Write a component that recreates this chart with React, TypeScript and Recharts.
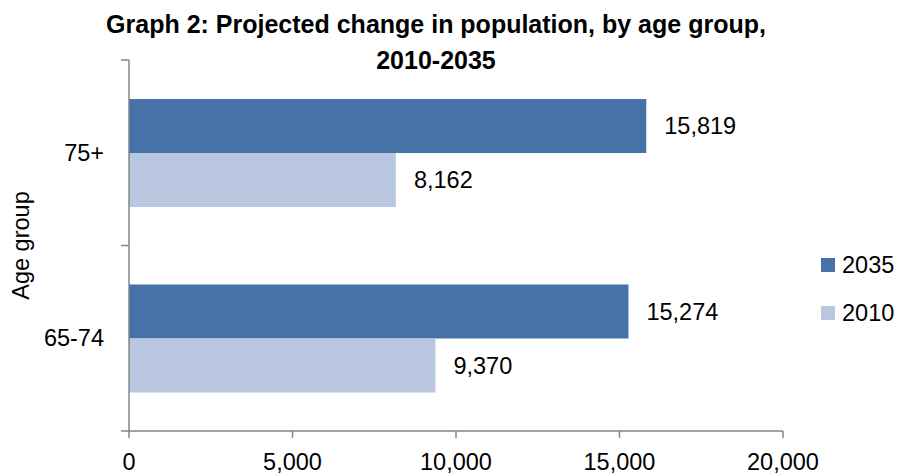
import React from "react";
import {
  BarChart,
  Bar,
  XAxis,
  YAxis,
  Legend,
  LabelList,
} from "recharts";

const ageGroups = ["75+", "65-74"];
const pop2035 = [15819, 15274];
const pop2010 = [8162, 9370];
const xTicks = [0, 5000, 10000, 15000, 20000];
const seriesOrder = ["2035", "2010"];

const data = ageGroups.map((group, i) => ({
  group,
  y2035: pop2035[i],
  y2010: pop2010[i],
}));

const FONT = "'Liberation Sans', Arial, sans-serif";
const FS = 23.5;
const W = 897;
const H = 475;
const TOP = 60;
const BOTTOM = 44;
const AXIS_W = 129;
const AXIS_COLOR = "#868686";
const band = (H - TOP - BOTTOM) / ageGroups.length;

const fmt = (v: number) => Number(v).toLocaleString("en-US");

function CategoryTick(props: any) {
  const { y, payload, index } = props;
  return (
    <g>
      <line
        x1={AXIS_W - 8}
        x2={AXIS_W}
        y1={y - band / 2}
        y2={y - band / 2}
        stroke={AXIS_COLOR}
        strokeWidth={1.5}
      />
      {index === ageGroups.length - 1 && (
        <line
          x1={AXIS_W - 8}
          x2={AXIS_W}
          y1={y + band / 2}
          y2={y + band / 2}
          stroke={AXIS_COLOR}
          strokeWidth={1.5}
        />
      )}
      <text
        x={AXIS_W - 25}
        y={y}
        textAnchor="end"
        dominantBaseline="central"
        fontSize={FS}
        fontFamily={FONT}
        fill="#000"
      >
        {payload.value}
      </text>
    </g>
  );
}

function AgeLabel(props: any) {
  const { viewBox } = props;
  const cx = 21;
  const cy = viewBox.y + viewBox.height / 2;
  return (
    <text
      x={cx}
      y={cy}
      transform={`rotate(-90 ${cx} ${cy})`}
      textAnchor="middle"
      dominantBaseline="central"
      fontSize={FS}
      fontFamily={FONT}
      fill="#000"
    >
      Age group
    </text>
  );
}

function LegendBox(props: any) {
  const { payload } = props;
  return (
    <div style={{ fontFamily: FONT, fontSize: FS }}>
      {(payload || []).map((entry: any) => (
        <div
          key={entry.value}
          style={{ display: "flex", alignItems: "center", height: 48 }}
        >
          <span
            style={{
              display: "inline-block",
              width: 14,
              height: 14,
              background: entry.color,
              marginRight: 7,
            }}
          />
          <span>{entry.value}</span>
        </div>
      ))}
    </div>
  );
}

export default function App() {
  return (
    <div
      style={{
        position: "absolute",
        left: 0,
        top: 0,
        width: W,
        height: H,
        background: "#fff",
      }}
    >
      <div
        style={{
          position: "absolute",
          left: 0,
          top: 6,
          width: 872,
          textAlign: "center",
          fontFamily: FONT,
          fontWeight: "bold",
          fontSize: 25,
          lineHeight: "36px",
          color: "#000",
          zIndex: 1,
        }}
      >
        Graph 2: Projected change in population, by age group,
        <br />
        2010-2035
      </div>
      <BarChart
        width={W}
        height={H}
        data={data}
        layout="vertical"
        margin={{ top: TOP, right: 34, bottom: 0, left: 0 }}
        barCategoryGap="21%"
        barGap={0}
      >
        <XAxis
          type="number"
          domain={[0, 20000]}
          ticks={xTicks}
          tickFormatter={fmt}
          height={BOTTOM}
          tickSize={7}
          tickMargin={15}
          axisLine={{ stroke: AXIS_COLOR, strokeWidth: 1.5 }}
          tickLine={{ stroke: AXIS_COLOR, strokeWidth: 1.5 }}
          tick={{ fontSize: FS, fill: "#000", fontFamily: FONT }}
        />
        <YAxis
          type="category"
          dataKey="group"
          width={AXIS_W}
          axisLine={{ stroke: AXIS_COLOR, strokeWidth: 1.5 }}
          tickLine={false}
          tick={<CategoryTick />}
          label={<AgeLabel />}
        />
        <Legend
          layout="vertical"
          align="right"
          verticalAlign="top"
          content={<LegendBox />}
          itemSorter={(item: any) => seriesOrder.indexOf(String(item.value))}
          wrapperStyle={{ left: 821, top: 241, width: 80 }}
        />
        <Bar
          dataKey="y2035"
          name="2035"
          fill="#4572A7"
          isAnimationActive={false}
        >
          <LabelList
            dataKey="y2035"
            position="right"
            offset={18}
            formatter={fmt}
            style={{ fontSize: FS, fill: "#000", fontFamily: FONT }}
          />
        </Bar>
        <Bar
          dataKey="y2010"
          name="2010"
          fill="#B9C7E0"
          isAnimationActive={false}
        >
          <LabelList
            dataKey="y2010"
            position="right"
            offset={18}
            formatter={fmt}
            style={{ fontSize: FS, fill: "#000", fontFamily: FONT }}
          />
        </Bar>
      </BarChart>
    </div>
  );
}
